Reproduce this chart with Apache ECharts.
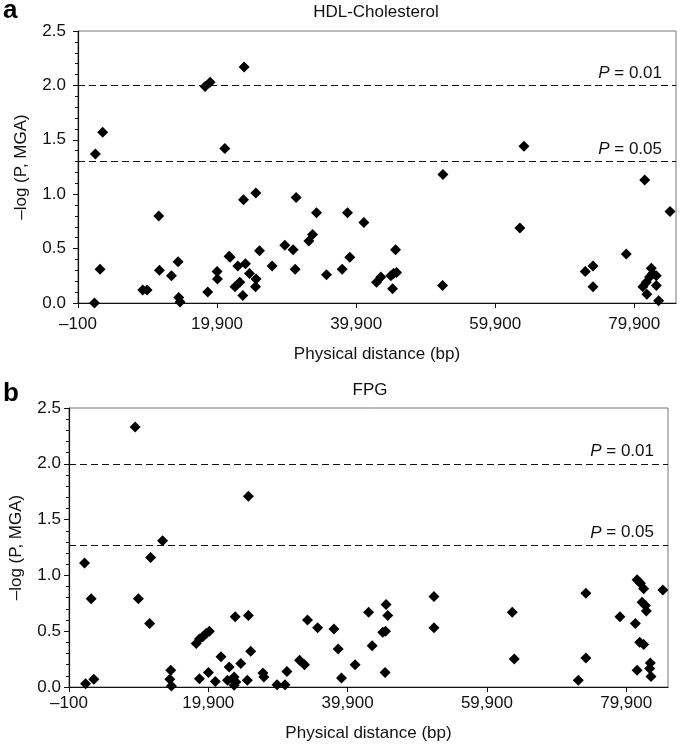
<!DOCTYPE html>
<html>
<head>
<meta charset="utf-8">
<script src="https://cdn.jsdelivr.net/npm/echarts@6/dist/echarts.min.js"></script>
<style>
html,body{margin:0;padding:0;background:#fff;}
#chart{width:680px;height:750px;}
</style>
</head>
<body>
<div id="chart"></div>
<script>
// ---- data ----
var hdlPos = [2260,2400,3450,3070,9210,9830,11510,11610,13340,14290,14390,14580,18180,18900,18560,19900,19950,21010,21630,21770,22880,22490,23170,23790,23700,23980,23600,24560,25470,25510,25430,26000,27820,29640,30840,31130,31270,33100,33630,34200,35640,37890,38660,41010,38990,42840,43460,45570,44890,45280,45710,45140,52380,52330,64030,63450,72850,73960,73960,78750,81400,85040,81140,81630,82100,82540,82350,83070,83070,81710,83400];
var hdlVal = [0.00,1.37,1.57,0.31,0.12,0.12,0.80,0.30,0.25,0.38,0.05,0.01,1.99,2.03,0.10,0.29,0.22,1.42,0.43,0.42,0.34,0.15,0.19,2.17,0.95,0.36,0.07,0.27,1.01,0.22,0.15,0.48,0.34,0.53,0.49,0.31,0.97,0.57,0.63,0.83,0.26,0.31,0.83,0.74,0.42,0.19,0.24,0.49,0.25,0.27,0.28,0.13,1.18,0.16,1.44,0.69,0.29,0.34,0.15,0.45,1.13,0.84,0.15,0.19,0.24,0.27,0.32,0.25,0.16,0.08,0.02];

var fpgPos = [2280,3460,2130,3090,9390,9860,11620,11480,13330,14510,14370,14610,18160,18630,19100,19580,20050,18630,19920,20910,21720,22660,23610,23610,23850,22900,23760,24570,25650,25650,25500,25990,27740,27880,29770,30910,31190,33000,33710,34140,35600,37940,38550,39020,40970,42920,43430,45420,45660,44950,45340,45280,52300,52300,63540,63830,73020,74110,74110,78990,81220,81470,81940,82410,82180,82650,82790,81840,82410,81470,83360,83260,83460,85160];
var fpgVal = [0.03,0.07,1.11,0.79,2.33,0.79,1.16,0.57,1.31,0.15,0.07,0.01,0.39,0.43,0.45,0.48,0.50,0.075,0.13,0.05,0.27,0.06,0.09,0.015,0.045,0.18,0.63,0.21,1.71,0.64,0.06,0.32,0.125,0.09,0.02,0.02,0.14,0.24,0.20,0.60,0.53,0.52,0.34,0.08,0.20,0.67,0.37,0.74,0.64,0.49,0.50,0.13,0.81,0.53,0.67,0.25,0.06,0.84,0.26,0.63,0.57,0.96,0.93,0.88,0.76,0.73,0.68,0.40,0.38,0.15,0.215,0.165,0.095,0.87];

var xTickValues = [-100,19900,39900,59900,79900];
var xTickLabels = ['\u2013100','19,900','39,900','59,900','79,900'];
var yTickLabels = ['0.0','0.5','1.0','1.5','2.0','2.5'];
var hdlThresholds = [2.0, 1.3];
var fpgThresholds = [2.0, 1.27];
var thresholdLabels = ['0.01','0.05'];
var panelTitles = ['HDL-Cholesterol','FPG'];
var panelLetters = ['a','b'];
var xName = 'Physical distance (bp)';
var yName = '\u2013log (P, MGA)';

// ---- build ----
var FONT = 'Liberation Sans, Arial, Helvetica, sans-serif';
var INK = '#111';

function pairs(xs, ys){ return xs.map(function(x,i){ return [x, ys[i]]; }); }

function xAxisCfg(gi, margin, nameGap){
  return {
    type:'value', gridIndex:gi, min:-100, max:85900, interval:20000,
    name:xName, nameLocation:'middle', nameGap:nameGap,
    nameTextStyle:{fontFamily:FONT, fontSize:17, color:INK},
    axisLine:{show:true, onZero:false, lineStyle:{color:INK, width:1.2}},
    axisTick:{show:true, length:5, inside:false, customValues:xTickValues, lineStyle:{color:INK, width:1}},
    axisLabel:{show:true, margin:margin, fontFamily:FONT, fontSize:17, color:INK, customValues:xTickValues,
      formatter:function(v){ var i = xTickValues.indexOf(v); return i>=0 ? xTickLabels[i] : ''; }},
    splitLine:{show:false}
  };
}
function yAxisCfg(gi, margin, nameGap){
  return {
    type:'value', gridIndex:gi, min:0, max:2.5, interval:0.5,
    name:yName, nameLocation:'middle', nameGap:nameGap,
    nameTextStyle:{fontFamily:FONT, fontSize:17, color:INK},
    axisLine:{show:true, onZero:false, lineStyle:{color:INK, width:1.2}},
    axisTick:{show:true, length:5, lineStyle:{color:INK, width:1}},
    minorTick:{show:true, splitNumber:5, length:3, lineStyle:{color:INK, width:1}},
    axisLabel:{margin:margin, fontFamily:FONT, fontSize:17, color:INK,
      formatter:function(v){ return yTickLabels[Math.round(v/0.5)]; }},
    splitLine:{show:false}, minorSplitLine:{show:false}
  };
}
function markLineCfg(levels){
  return {
    silent:true, symbol:['none','none'], animation:false,
    lineStyle:{color:INK, width:1.2, type:[7,4], opacity:1},
    data: levels.map(function(v,i){
      return {yAxis:v, label:{show:true, position:'insideEndTop', distance:[14,4],
        formatter:'{i|P} = ' + thresholdLabels[i],
        fontFamily:FONT, fontSize:17, color:INK,
        rich:{i:{fontStyle:'italic', fontFamily:FONT, fontSize:17, color:INK}}}};
    })
  };
}
function seriesCfg(gi, data, levels){
  return {
    type:'scatter', xAxisIndex:gi, yAxisIndex:gi, data:data,
    symbol:'diamond', symbolSize:11, itemStyle:{color:'#000', opacity:1},
    animation:false, markLine:markLineCfg(levels)
  };
}

var chart = echarts.init(document.getElementById('chart'), null, {renderer:'canvas'});
chart.setOption({
  backgroundColor:'#fff',
  animation:false,
  grid:[
    {left:78, top:31, width:598, height:272, show:true, borderColor:'#777', borderWidth:1, containLabel:false},
    {left:63, top:408, width:605, height:279, show:true, borderColor:'#777', borderWidth:1, containLabel:false}
  ],
  xAxis:[xAxisCfg(0, 13, 43), xAxisCfg(1, 8, 38)],
  yAxis:[yAxisCfg(0, 12, 48), yAxisCfg(1, 8, 44)],
  series:[
    seriesCfg(0, pairs(hdlPos, hdlVal), hdlThresholds),
    seriesCfg(1, pairs(fpgPos, fpgVal), fpgThresholds)
  ],
  graphic:[
    {type:'text', x:376, y:12, style:{text:panelTitles[0], font:'17px '+FONT, fill:INK, align:'center', verticalAlign:'middle'}},
    {type:'text', x:370, y:390, style:{text:panelTitles[1], font:'17px '+FONT, fill:INK, align:'center', verticalAlign:'middle'}},
    {type:'text', x:3, y:11, style:{text:panelLetters[0], font:'bold 26px '+FONT, fill:'#000', align:'left', verticalAlign:'middle'}},
    {type:'text', x:3, y:394, style:{text:panelLetters[1], font:'bold 26px '+FONT, fill:'#000', align:'left', verticalAlign:'middle'}}
  ]
});
</script>
</body>
</html>
